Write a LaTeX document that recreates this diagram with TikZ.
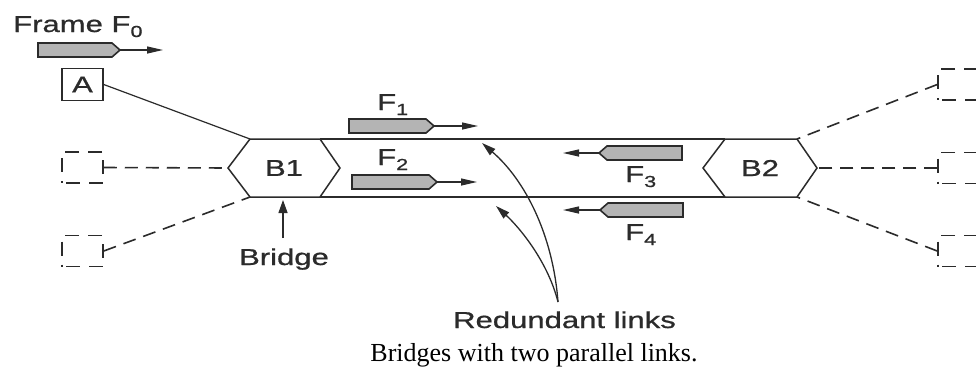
\documentclass[tikz,border=0pt]{standalone}
\usepackage{fontspec}
\setmainfont{Liberation Sans}
\newfontfamily\labfont[FakeBold=0.7]{Liberation Sans}
\newfontfamily\capfont{Liberation Serif}
\usetikzlibrary{arrows.meta}
\definecolor{ink}{HTML}{2B2B2B}
\definecolor{framefill}{HTML}{B4B4B4}
\newcommand\wide[1]{\scalebox{1.35}[1]{#1}}
\newcommand\subs[1]{\raisebox{-5pt}{\fontsize{16}{16}\selectfont #1}}
\begin{document}
\begin{tikzpicture}[x=1pt,y=-1pt,
  txt/.style={font=\labfont\fontsize{23}{23}\selectfont, text=ink, inner sep=0pt},
  hex/.style={draw=ink, line width=1.5pt, line join=miter},
  link/.style={draw=ink, line width=1.6pt},
  thin/.style={draw=ink, line width=1.2pt},
  dsh/.style={draw=ink, line width=1.6pt, dash pattern=on 13pt off 8pt},
  sbox/.style={draw=ink, line width=1.5pt, minimum width=41pt, minimum height=32pt, inner sep=0pt},
  dbox/.style={draw=ink, line width=1.5pt, minimum width=41pt, minimum height=31pt, inner sep=0pt, dash pattern=on 14pt off 9pt, dash phase=-4pt},
  frm/.style={draw=ink, fill=framefill, line width=1.6pt, line join=miter},
  harr/.style={draw=ink, line width=1.2pt, -{Triangle[length=16pt,width=7pt]}},
  carr/.style={draw=ink, line width=1.3pt, -{Triangle[length=14pt,width=8pt]}},
  varr/.style={draw=ink, line width=1.3pt, -{Triangle[length=13pt,width=9pt]}}]
\useasboundingbox (0,0) rectangle (976,370);
\fill[white] (0,0) rectangle (976,370);

% Frame F0 and host A
\node[txt, anchor=base west] (title) at (13,32) {\wide{Frame F\subs{0}}};
\draw[frm] (38,43) -- (112,43) -- (120,50) -- (112,57) -- (38,57) -- cycle;
\coordinate (f0t) at (120,50); \coordinate (f0e) at (163,50);
\draw[harr] (f0t) -- (f0e);
\node[sbox, txt] (A) at (82.5,84.5) {\wide{A}};

% Bridge B1
\coordinate (b1tl) at (250,139); \coordinate (b1tr) at (320,139);
\coordinate (b1r) at (340,168); \coordinate (b1br) at (320,197);
\coordinate (b1bl) at (250,197); \coordinate (b1l) at (228,168);
\draw[hex] (b1tl) -- (b1tr) -- (b1r) -- (b1br) -- (b1bl) -- (b1l) -- cycle;
\node[txt] (B1) at (284,168) {\wide{B1}};

% Bridge B2
\coordinate (b2tl) at (725,139); \coordinate (b2tr) at (797,139);
\coordinate (b2r) at (817,168); \coordinate (b2br) at (797,197);
\coordinate (b2bl) at (725,197); \coordinate (b2l) at (703,168);
\draw[hex] (b2tl) -- (b2tr) -- (b2r) -- (b2br) -- (b2bl) -- (b2l) -- cycle;
\node[txt] (B2) at (760,168) {\wide{B2}};

% redundant links
\draw[link] (b1tr) -- (b2tl);
\draw[link] (b1br) -- (b2bl);

% host connections
\draw[thin] (A.east) -- (b1tl);
\node[dbox] (L1) at (82.5,167.5) {};
\node[dbox] (L2) at (82.5,251) {};
\draw[dsh] (L1.east) -- (b1l);
\draw[dsh] (L2.east) -- (b1bl);
\node[dbox] (R1) at (958.5,84.5) {};
\node[dbox] (R2) at (958.5,168) {};
\node[dbox] (R3) at (958.5,251) {};
\draw[dsh] (R1.west) -- (b2tr);
\draw[dsh] (R2.west) -- (b2r);
\draw[dsh] (R3.west) -- (b2br);

% frames F1, F2 (rightwards)
\node[txt, anchor=base west] (lF1) at (377,110) {\wide{F\subs{1}}};
\draw[frm] (349,119) -- (426,119) -- (434,126) -- (426,133) -- (349,133) -- cycle;
\coordinate (f1t) at (434,126); \coordinate (f1e) at (478,126);
\draw[harr] (f1t) -- (f1e);
\node[txt, anchor=base west] (lF2) at (377,165) {\wide{F\subs{2}}};
\draw[frm] (352,175) -- (429,175) -- (437,182) -- (429,189) -- (352,189) -- cycle;
\coordinate (f2t) at (437,182); \coordinate (f2e) at (477,182);
\draw[harr] (f2t) -- (f2e);

% frames F3, F4 (leftwards)
\draw[frm] (682,146) -- (607,146) -- (599,153) -- (607,160) -- (682,160) -- cycle;
\coordinate (f3t) at (599,153); \coordinate (f3e) at (563,153);
\draw[harr] (f3t) -- (f3e);
\node[txt, anchor=base west] (lF3) at (625,182) {\wide{F\subs{3}}};
\draw[frm] (683,203) -- (608,203) -- (600,210) -- (608,217) -- (683,217) -- cycle;
\coordinate (f4t) at (600,210); \coordinate (f4e) at (563,210);
\draw[harr] (f4t) -- (f4e);
\node[txt, anchor=base west] (lF4) at (625,240) {\wide{F\subs{4}}};

% Bridge label
\node[txt, anchor=base] (bridge) at (284,265) {\wide{Bridge}};
\coordinate (bt) at (283,238); \coordinate (b1b) at (283,200);
\draw[varr] (bt) -- (b1b);

% Redundant links label
\node[txt, anchor=base] (red) at (564.5,328) {\wide{Redundant links}};
\coordinate (rl) at (558,302);
\coordinate (up) at (482,143); \coordinate (lo) at (496,206);
\draw[carr] (rl) .. controls (553,235) and (525,180) .. (up);
\draw[carr] (rl) .. controls (548,262) and (520,228) .. (lo);

% caption
\node[font=\capfont\fontsize{26}{26}\selectfont, inner sep=0pt, anchor=base] (cap) at (534,361) {Bridges with two parallel links.};
\end{tikzpicture}
\end{document}
